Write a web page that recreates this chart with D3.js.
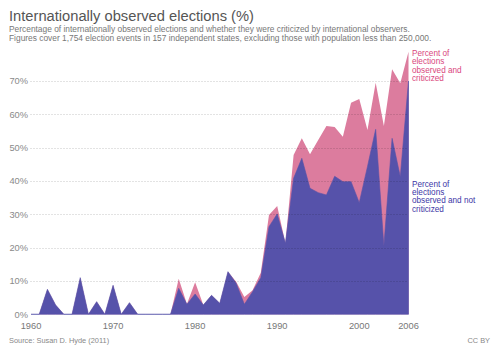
<!DOCTYPE html>
<html>
<head>
<meta charset="utf-8">
<script src="https://cdn.jsdelivr.net/npm/d3@7"></script>
<style>
  body { margin: 0; background: #fff; }
  text { font-family: "Liberation Sans", Arial, sans-serif; }
</style>
</head>
<body>
<script>
// Internationally observed elections, share of election events per year

var years = d3.range(1960, 2007);
// percent observed and not criticized (bottom layer)
var notCriticized = [0,0,7.5,2.8,0,0,11,0,3.8,0,8.7,0,3.5,0,0,0,0,0,7.8,3,6.1,2.8,5.7,3.3,12.8,9.3,3,6.8,11,26.3,30.1,21.3,40.8,46.8,37.8,36.5,35.8,41.4,39.8,39.8,33.5,44.3,55.5,20.5,52.8,41.3,70];
// percent observed and criticized (stacked on top)
var criticized = [0,0,0,0,0,0,0,0,0,0,0,0,0,0,0,0,0,0,2.9,0.1,3.5,0,0,0,0,0.5,2.2,0.4,1.5,3.5,2.4,0,7,6,10.2,15.8,20.7,14.8,13.5,23.7,31.1,11,14,36,20.7,28,8.8];
var yTicks = [0,10,20,30,40,50,60,70];
var xTicks = [1960,1970,1980,1990,2000,2006];

var width = 500, height = 353;

var rows = years.map(function(yr, i){
  return {year: yr, notCrit: notCriticized[i], crit: criticized[i]};
});

var x = d3.scaleLinear().domain([1960, 2006]).range([31, 408.5]);
var y = d3.scaleLinear().domain([0, 70]).range([314.3, 81]);

var svg = d3.select("body").append("svg").attr("width", width).attr("height", height);

var stack = d3.stack().keys(["notCrit", "crit"]);
var layers = stack(rows);
var colors = {notCrit: "#5652aa", crit: "#dc7c9e"};

var area = d3.area()
  .x(function(d){ return x(d.data.year); })
  .y0(function(d){ return y(d[0]); })
  .y1(function(d){ return y(d[1]); });

// pink first (full stack), then blue over it
svg.append("path")
  .datum(layers[1])
  .attr("fill", colors.crit)
  .attr("d", d3.area()
    .x(function(d){ return x(d.data.year); })
    .y0(y(0))
    .y1(function(d){ return y(d[1]); }));

svg.append("path")
  .datum(layers[0])
  .attr("fill", colors.notCrit)
  .attr("stroke", colors.notCrit)
  .attr("stroke-width", 0.6)
  .attr("d", area);

// dotted grid on top
svg.append("g").selectAll("line")
  .data(yTicks.slice(1))
  .join("line")
  .attr("x1", 30.5).attr("x2", x(2006))
  .attr("y1", function(d){ return Math.round(y(d)) + 0.5; })
  .attr("y2", function(d){ return Math.round(y(d)) + 0.5; })
  .attr("stroke", "rgba(0,0,0,0.22)")
  .attr("stroke-dasharray", "1,2");

// y labels
svg.append("g").selectAll("text")
  .data(yTicks)
  .join("text")
  .attr("x", 28)
  .attr("y", function(d){ return y(d) + 3.3; })
  .attr("text-anchor", "end")
  .attr("font-size", 9.3)
  .attr("fill", "#8a8a8a")
  .text(function(d){ return d + "%"; });

// x labels
svg.append("g").selectAll("text")
  .data(xTicks)
  .join("text")
  .attr("x", function(d){ return x(d); })
  .attr("y", 328.5)
  .attr("text-anchor", "middle")
  .attr("font-size", 9.3)
  .attr("fill", "#777")
  .text(function(d){ return d; });

// titles
svg.append("text").attr("x", 9).attr("y", 21).attr("font-size", 14.7)
  .attr("fill", "#555").text("Internationally observed elections (%)");
svg.append("text").attr("x", 9).attr("y", 31.5).attr("font-size", 8.4)
  .attr("fill", "#777")
  .text("Percentage of internationally observed elections and whether they were criticized by international observers.");
svg.append("text").attr("x", 9).attr("y", 41.2).attr("font-size", 8.4)
  .attr("fill", "#777")
  .text("Figures cover 1,754 election events in 157 independent states, excluding those with population less than 250,000.");

// series labels
var pinkLabel = ["Percent of", "elections", "observed and", "criticized"];
var blueLabel = ["Percent of", "elections", "observed and not", "criticized"];

svg.append("g").selectAll("text")
  .data(pinkLabel)
  .join("text")
  .attr("x", 412)
  .attr("y", function(d, i){ return 56 + i * 8.4; })
  .attr("font-size", 8.2)
  .attr("fill", "#d9467d")
  .text(function(d){ return d; });

svg.append("g").selectAll("text")
  .data(blueLabel)
  .join("text")
  .attr("x", 412)
  .attr("y", function(d, i){ return 186.5 + i * 8.4; })
  .attr("font-size", 8.2)
  .attr("fill", "#3c36a6")
  .text(function(d){ return d; });

// footer
svg.append("text").attr("x", 9).attr("y", 342.5).attr("font-size", 7.4)
  .attr("fill", "#888").text("Source: Susan D. Hyde (2011)");
svg.append("text").attr("x", 490).attr("y", 342.5).attr("font-size", 7.4)
  .attr("text-anchor", "end").attr("fill", "#888").text("CC BY");
</script>
</body>
</html>
